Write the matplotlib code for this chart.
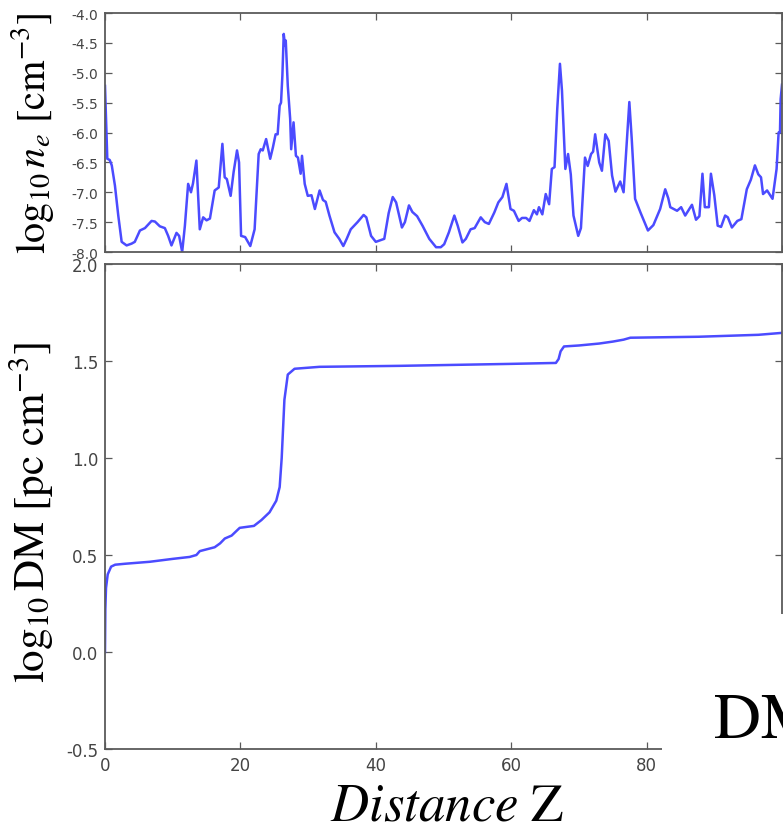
import matplotlib
matplotlib.use("Agg")
import matplotlib.pyplot as plt
from matplotlib.patches import Rectangle

# ---------------- data ----------------
ne_z = [0, 0.34, 0.7, 1.0, 1.47, 1.96, 2.46, 3.19, 3.93, 4.4, 5.16, 5.9, 6.88, 7.37,
        8.1, 8.84, 9.33, 9.82, 10.56, 10.95, 11.4, 11.8, 12.28, 12.7, 13.0, 13.5, 14.0,
        14.5, 15.0, 15.5, 16.2, 16.8, 17.34, 17.68, 18.0, 18.56, 19.0, 19.5, 19.8, 20.1,
        20.7, 21.46, 22.1, 22.7, 23.0, 23.3, 23.8, 24.4, 24.8, 25.2, 25.5, 25.8, 26.0,
        26.2, 26.4, 26.6, 26.7, 27.0, 27.35, 27.5, 27.85, 28.2, 28.5, 28.9, 29.1, 29.5,
        29.95, 30.5, 31.0, 31.7, 32.2, 32.6, 33.15, 33.9, 34.6, 35.2, 35.7, 36.3, 37.3,
        38.2, 38.6, 39.3, 40.0, 41.25, 41.9, 42.5, 43.0, 43.86, 44.3, 44.9, 45.4, 46.1,
        46.9, 47.9, 48.9, 49.6, 50.1, 50.8, 51.6, 52.1, 52.8, 53.3, 54.0, 54.6, 55.5,
        56.1, 56.7, 57.5, 58.1, 58.7, 59.3, 59.9, 60.4, 61.1, 61.6, 62.2, 62.7, 63.35,
        63.8, 64.1, 64.6, 65.1, 65.6, 66.0, 66.4, 66.8, 67.2, 67.5, 68.0, 68.4, 68.8,
        69.2, 69.9, 70.3, 70.9, 71.3, 71.8, 72.1, 72.4, 73.0, 73.4, 73.9, 74.4, 74.9,
        75.4, 76.1, 76.6, 77.45, 77.8, 78.3, 79.1, 80.2, 81.0, 82.0, 82.75, 83.2, 83.5,
        84.5, 85.1, 85.7, 86.7, 87.3, 87.8, 88.25, 88.6, 89.2, 89.5, 90.0, 90.5, 91.0,
        91.6, 92.0, 92.6, 93.4, 94.0, 94.8, 95.4, 96.0, 96.5, 96.9, 97.2, 97.8, 98.6,
        99.2, 99.5, 99.7, 99.8, 100.0]
log_ne = [-5.22, -6.44, -6.46, -6.55, -6.89, -7.39, -7.83, -7.89, -7.86, -7.83, -7.64,
          -7.60, -7.48, -7.49, -7.57, -7.60, -7.73, -7.89, -7.68, -7.73, -8.00, -7.56,
          -6.86, -7.00, -6.85, -6.47, -7.62, -7.42, -7.47, -7.44, -6.97, -6.92, -6.19,
          -6.75, -6.78, -7.06, -6.66, -6.30, -6.50, -7.73, -7.75, -7.90, -7.62, -6.36,
          -6.28, -6.30, -6.11, -6.44, -6.25, -6.03, -6.03, -5.55, -5.50, -5.05, -4.35,
          -4.55, -4.46, -5.22, -5.77, -6.28, -5.83, -6.39, -6.42, -6.69, -6.39, -6.86,
          -7.06, -7.05, -7.28, -6.97, -7.13, -7.16, -7.39, -7.67, -7.78, -7.90, -7.78,
          -7.62, -7.50, -7.38, -7.42, -7.73, -7.83, -7.78, -7.35, -7.08, -7.17, -7.59,
          -7.50, -7.22, -7.33, -7.40, -7.56, -7.78, -7.92, -7.92, -7.87, -7.67, -7.39,
          -7.56, -7.84, -7.78, -7.62, -7.60, -7.42, -7.50, -7.53, -7.34, -7.17, -7.08,
          -6.86, -7.28, -7.31, -7.48, -7.43, -7.43, -7.48, -7.30, -7.37, -7.25, -7.37,
          -7.03, -7.20, -6.61, -6.58, -5.61, -4.85, -5.30, -6.61, -6.36, -6.70, -7.39,
          -7.73, -7.60, -6.42, -6.56, -6.36, -6.32, -6.03, -6.50, -6.64, -6.03, -6.14,
          -6.72, -6.99, -6.82, -7.00, -5.49, -6.10, -7.11, -7.34, -7.64, -7.55, -7.28,
          -6.95, -7.10, -7.25, -7.31, -7.25, -7.39, -7.21, -7.46, -7.40, -6.69, -7.25,
          -7.25, -6.69, -7.05, -7.56, -7.58, -7.39, -7.42, -7.59, -7.48, -7.45, -6.95,
          -6.79, -6.55, -6.70, -6.75, -7.03, -6.97, -7.11, -6.61, -6.00, -6.00, -5.44,
          -5.20]

dm_z = [0, 0.05, 0.15, 0.4, 0.9, 1.5, 3, 6.6, 10, 12.5, 13.5, 14, 16.2, 17, 17.7, 18.7,
        19.9, 22, 23.1, 24.3, 25.3, 25.8, 26.1, 26.5, 27, 28, 31.7, 43.5, 59.7, 66.6,
        67.0, 67.3, 67.8, 70, 73, 75, 76.6, 77.6, 87.7, 96.5, 100]
log_dm = [0.0, 0.22, 0.33, 0.40, 0.44, 0.45, 0.455, 0.465, 0.48, 0.49, 0.50, 0.52, 0.54,
          0.56, 0.585, 0.60, 0.64, 0.65, 0.68, 0.72, 0.78, 0.85, 1.0, 1.3, 1.43, 1.46,
          1.47, 1.475, 1.485, 1.49, 1.51, 1.55, 1.575, 1.58, 1.59, 1.60, 1.61, 1.62,
          1.625, 1.635, 1.645]

ne_yticks = [-8.0, -7.5, -7.0, -6.5, -6.0, -5.5, -5.0, -4.5, -4.0]
dm_yticks = [-0.5, 0.0, 0.5, 1.0, 1.5, 2.0]
x_ticks = [0, 20, 40, 60, 80, 100]

# ---------------- style ----------------
plt.rcParams['mathtext.fontset'] = 'stix'
plt.rcParams['axes.unicode_minus'] = False
plt.rcParams['font.family'] = ['DejaVu Sans']

W, H = 783, 828
fig = plt.figure(figsize=(W / 100, H / 100), dpi=100)

line_color = '#4b4bff'
spine_color = '#5a5a5a'
label_color = '#444444'

left, right = 105, 782
ax1 = fig.add_axes([left / W, 1 - 253 / H, (right - left) / W, (253 - 14) / H])
ax2 = fig.add_axes([left / W, 1 - 750 / H, (right - left) / W, (750 - 265) / H])
ax1.set_zorder(2)

for ax in (ax1, ax2):
    for sp in ax.spines.values():
        sp.set_color(spine_color)
        sp.set_linewidth(1.3)
    ax.tick_params(direction='in', length=5, width=0.9, color=spine_color,
                   labelcolor=label_color, top=True, right=True)
    ax.set_xlim(0, 100)
    ax.set_xticks(x_ticks)

ax1.plot(ne_z, log_ne, color=line_color, lw=1.8, solid_joinstyle='round')
ax1.set_ylim(-8.0, -4.0)
ax1.set_yticks(ne_yticks)
ax1.set_yticklabels([f"{v:.1f}" for v in ne_yticks])
ax1.tick_params(labelbottom=False, labelsize=10, pad=5)
ax1.set_ylabel(r'$\log_{10}n_e\ [\mathrm{cm}^{-3}]$', fontsize=29)
ax1.yaxis.set_label_coords((56 - left) / (right - left), 0.5)

ax2.plot(dm_z, log_dm, color=line_color, lw=1.8, solid_joinstyle='round')
ax2.set_ylim(-0.5, 2.0)
ax2.set_yticks(dm_yticks)
ax2.set_yticklabels([f"{v:.1f}" for v in dm_yticks])
ax2.tick_params(labelsize=12, pad=5)
ax2.set_ylabel(r'$\log_{10}\mathrm{DM}\ [\mathrm{pc\ cm}^{-3}]$', fontsize=31)
ax2.yaxis.set_label_coords((56 - left) / (right - left), 0.49)
ax2.set_xlabel(r'$\mathit{Distance}\ \mathrm{Z}$', fontsize=38, va='baseline')
ax2.xaxis.set_label_coords((447 - left) / (right - left), (750 - 821) / (750 - 265))

# white strip hiding the upper half of the "2.0" label (panels overlap there)
fig.add_artist(Rectangle((55 / W, 1 - 260 / H), 48 / W, 6 / H,
                         transform=fig.transFigure, facecolor='white',
                         edgecolor='none', zorder=1))

# white patch covering the lower-right corner, with the partial "DM" text
fig.add_artist(Rectangle((662 / W, 0), 1 - 662 / W, (H - 615) / H,
                         transform=fig.transFigure, facecolor='white',
                         edgecolor='none', zorder=10))
fig.text(713 / W, 1 - 738 / H, r'$\mathrm{DM}$', fontsize=47, va='baseline',
         ha='left', zorder=11)

fig.savefig('out.png', dpi=100)
